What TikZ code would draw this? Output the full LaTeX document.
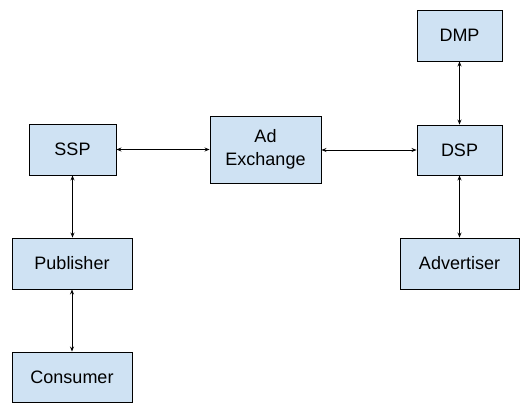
\documentclass[tikz,border=0pt]{standalone}
\usepackage{fontspec}
\setmainfont{Liberation Sans}
\usepackage{xcolor}
\usetikzlibrary{arrows.meta}
\definecolor{boxblue}{RGB}{207,226,243}

\tikzset{
  blockbox/.style={draw=black, line width=0.9pt, fill=boxblue, inner sep=0pt,
    align=center, font=\fontsize{18}{23}\selectfont},
  link/.style={line width=0.8pt, {Stealth[length=5pt,width=4pt]}-{Stealth[length=5pt,width=4pt]}}
}

\begin{document}
\begin{tikzpicture}[x=1pt,y=-1pt]
\useasboundingbox (0,0) rectangle (532,414);

%boxes
\node[blockbox, minimum width=85pt, minimum height=51pt] (dmp) at (459.5,35.5) {DMP};
\node[blockbox, minimum width=87pt, minimum height=51pt] (ssp) at (72.5,149.5) {SSP};
\node[blockbox, minimum width=111pt, minimum height=67pt] (adx) at (265.5,149.5) {Ad\\Exchange};
\node[blockbox, minimum width=85pt, minimum height=50pt] (dsp) at (459.5,150) {DSP};
\node[blockbox, minimum width=120pt, minimum height=51pt] (pub) at (72,263.5) {Publisher};
\node[blockbox, minimum width=119pt, minimum height=51pt] (adv) at (459.5,263.5) {Advertiser};
\node[blockbox, minimum width=120pt, minimum height=50pt] (con) at (72,377) {Consumer};

%arrows
\draw[link] (ssp.east) -- (ssp.east -| adx.west);
\draw[link] (dsp.west) -- (dsp.west -| adx.east);
\draw[link] (dmp.south) -- (dsp.north);
\draw[link] (dsp.south) -- (adv.north -| dsp.south);
\draw[link] (ssp.south) -- (pub.north -| ssp.south);
\draw[link] (pub.south) -- (con.north);
\end{tikzpicture}
\end{document}
